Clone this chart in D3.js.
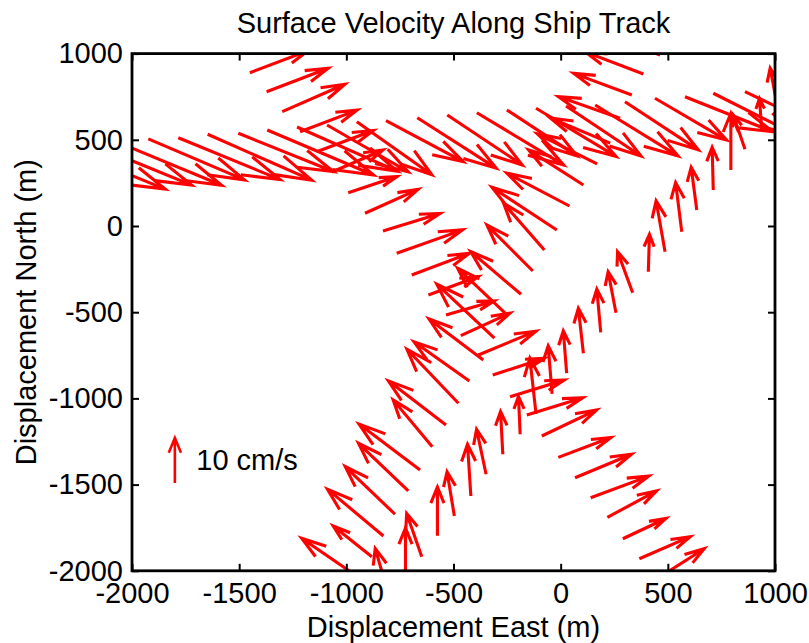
<!DOCTYPE html>
<html>
<head>
<meta charset="utf-8">
<script src="https://cdn.jsdelivr.net/npm/d3@7"></script>
<style>
  body { margin: 0; background: #fff; }
  text { font-family: Arial, "Liberation Sans", Helvetica, sans-serif; }
</style>
</head>
<body>
<div id="chart"></div>
<script>
// ship track positions (m) and surface velocity (cm/s)
// track A - northward flow
var eastA  = [-800, -724, -648, -575, -496, -419, -348, -270, -189, -115, -40, 28, 106, 187, 258, 336, 409, 487, 565, 635, 712, 794, 860, 938, 1014];
var northA = [-2152, -2034, -1918, -1796, -1682, -1566, -1440, -1324, -1208, -1090, -974, -854, -738, -617, -503, -387, -265, -149, -33, 93, 209, 325, 445, 557, 673];
var uA = [-2.5, 0, -2.7, 0, -1.3, -0.6, -1.7, -0.4, -0.3, -1.1, -0.7, -0.6, -0.9, -0.7, -1.4, -2.7, 0.2, -1.6, -1.1, -1.0, -0.2, 0, -2.1, -0.4, -1.4];
var vA = [10.8, 10.8, 9.6, 10.8, 9.8, 11.5, 10.0, 9.5, 8.4, 12.4, 10.7, 9.4, 10.0, 9.6, 9.1, 9.1, 8.3, 11.3, 10.9, 9.5, 9.5, 12.6, 7.6, 7.0, 9.3];

// track B - north-westward flow
var eastB  = [-937, -881, -827, -773, -711, -656, -599, -535, -477, -426, -361, -309, -259, -185, -130, -76, -18, 41, 106, 170, 231, 277, 332, 386, 464];
var northB = [-2043, -1918, -1798, -1672, -1537, -1415, -1280, -1154, -1028, -899, -777, -651, -506, -396, -261, -139, -23, 116, 238, 360, 481, 625, 760, 882, 992];
var uB = [-10.4, -6.9, -10.0, -8.9, -8.9, -10.9, -7.0, -10.3, -9.2, -9.9, -9.7, -10.3, -8.5, -9.0, -8.2, -7.3, -11.6, -11.2, -9.8, -10.7, -10.7, -11.0, -10.4, -10.4, -9.8];
var vB = [8.9, 6.8, 10.4, 10.6, 10.6, 10.2, 10.4, 9.8, 12.0, 8.7, 9.1, 12.0, 10.0, 9.5, 10.2, 10.4, 9.5, 7.3, 7.8, 6.7, 5.6, 4.8, 4.8, 4.9, 4.4];

// track C - east-southeastward flow along the northern leg
var eastC  = [-2294, -2168, -2028, -1924, -1784, -1647, -1504, -1369, -1230, -1090, -951, -815, -669, -529, -391, -251, -115, 25, 161, 300, 440, 580, 712, 860];
var northC = [441, 464, 466, 505, 512, 532, 538, 557, 574, 586, 605, 611, 628, 644, 657, 673, 683, 696, 702, 721, 741, 750, 770, 779];
var uC = [17.2, 17.1, 17.1, 17.2, 18.2, 18.6, 17.0, 19.0, 17.9, 14.5, 13.4, 13.8, 14.1, 13.4, 15.5, 12.5, 14.3, 13.4, 14.8, 13.1, 12.8, 15.7, 14.3, 14.3];
var vC = [-8.7, -8.7, -8.8, -9.1, -9.3, -10.2, -8.5, -10.0, -9.8, -10.4, -11.8, -9.1, -11.2, -11.1, -11.6, -10.2, -10.7, -11.1, -11.3, -10.7, -9.3, -7.8, -8.9, -8.4];

// track D - east-northeastward flow
var eastD  = [-1450, -1372, -1299, -1216, -1138, -1067, -991, -913, -829, -765, -695, -617, -535, -466, -384, -317, -236, -158, -88, -11, 67, 140, 218, 290, 367, 448];
var northD = [889, 779, 663, 547, 431, 313, 193, 74, -29, -158, -284, -400, -516, -636, -748, -864, -990, -1096, -1218, -1342, -1460, -1576, -1690, -1814, -1930, -2047];
var uD = [10.4, 11.0, 11.2, 10.2, 10.1, 9.1, 8.7, 9.5, 10.2, 11.8, 10.3, 8.9, 8.6, 8.8, 10.3, 9.2, 9.7, 10.0, 9.8, 9.4, 10.1, 10.4, 8.8, 7.7, 9.1, 8.5];
var vD = [4.9, 5.2, 6.1, 4.8, 4.7, 4.9, 3.6, 5.3, 3.9, 5.2, 4.8, 4.1, 3.1, 5.0, 5.3, 3.7, 3.7, 3.8, 5.8, 4.4, 5.2, 4.8, 5.9, 4.5, 4.9, 6.7];

var axisTicks = [-2000, -1500, -1000, -500, 0, 500, 1000];

var svgWidth = 809;
var svgHeight = 643;
var margin = { top: 53.6, right: 34, bottom: 72.2, left: 132 };
var width = svgWidth - margin.left - margin.right;
var height = svgHeight - margin.top - margin.bottom;

var arrowScale = 26.1; // metres of arrow per cm/s
var alpha = 0.33, beta = 0.33; // arrow head size like matlab quiver

var svg = d3.select("#chart")
  .append("svg")
  .attr("width", svgWidth)
  .attr("height", svgHeight);

var x = d3.scaleLinear().domain([-2000, 1000]).range([0, width]);
var y = d3.scaleLinear().domain([-2000, 1000]).range([height, 0]);

var chartGroup = svg.append("g")
  .attr("transform", `translate(${margin.left}, ${margin.top})`);

chartGroup.append("clipPath")
  .attr("id", "plotClip")
  .append("rect")
  .attr("width", width)
  .attr("height", height);

// build the arrow list from the tracks
function makeArrows(e, n, u, v) {
  return e.map(function (d, i) {
    return { e: d, n: n[i], u: u[i], v: v[i] };
  });
}
var arrows = [].concat(
  makeArrows(eastA, northA, uA, vA),
  makeArrows(eastB, northB, uB, vB),
  makeArrows(eastC, northC, uC, vC),
  makeArrows(eastD, northD, uD, vD)
);

function arrowPath(d) {
  var U = d.u * arrowScale, V = d.v * arrowScale;
  var tx = d.e + U, ty = d.n + V;
  var b1x = tx - alpha * (U + beta * V), b1y = ty - alpha * (V - beta * U);
  var b2x = tx - alpha * (U - beta * V), b2y = ty - alpha * (V + beta * U);
  return "M" + x(d.e) + "," + y(d.n) + "L" + x(tx) + "," + y(ty) +
    "M" + x(b1x) + "," + y(b1y) + "L" + x(tx) + "," + y(ty) + "L" + x(b2x) + "," + y(b2y);
}

chartGroup.append("g")
  .attr("clip-path", "url(#plotClip)")
  .selectAll("path")
  .data(arrows)
  .enter()
  .append("path")
  .attr("d", arrowPath)
  .attr("fill", "none")
  .attr("stroke", "#ff0000")
  .attr("stroke-width", 3.1);

// scale arrow
var legendArrow = { e: -1800, n: -1490, u: 0, v: 10 };
chartGroup.append("path")
  .attr("d", arrowPath(legendArrow))
  .attr("fill", "none")
  .attr("stroke", "#ff0000")
  .attr("stroke-width", 2.6);

chartGroup.append("text")
  .attr("x", x(-1700))
  .attr("y", y(-1415))
  .attr("font-size", 29)
  .text("10 cm/s");

// plain hyphen minus like the original tick labels
var tickFmt = function (d) { return String(d); };

// axes, ticks pointing inward on all four sides
function styleAxis(g) {
  g.select(".domain").remove();
  g.selectAll(".tick line").attr("stroke", "#000").attr("stroke-width", 2);
  g.selectAll(".tick text").attr("font-size", 29).attr("fill", "#000");
}

chartGroup.append("g")
  .attr("transform", `translate(0, ${height})`)
  .call(d3.axisBottom(x).tickValues(axisTicks).tickSizeInner(-7).tickSizeOuter(0).tickPadding(12).tickFormat(tickFmt))
  .call(styleAxis);

chartGroup.append("g")
  .call(d3.axisTop(x).tickValues(axisTicks).tickSizeInner(-7).tickSizeOuter(0).tickFormat(""))
  .call(styleAxis);

chartGroup.append("g")
  .call(d3.axisLeft(y).tickValues(axisTicks).tickSizeInner(-7).tickSizeOuter(0).tickPadding(9).tickFormat(tickFmt))
  .call(styleAxis);

chartGroup.append("g")
  .attr("transform", `translate(${width}, 0)`)
  .call(d3.axisRight(y).tickValues(axisTicks).tickSizeInner(-7).tickSizeOuter(0).tickFormat(""))
  .call(styleAxis);

chartGroup.append("rect")
  .attr("width", width)
  .attr("height", height)
  .attr("fill", "none")
  .attr("stroke", "#000")
  .attr("stroke-width", 2.8);

// labels
svg.append("text")
  .attr("x", margin.left + width / 2)
  .attr("y", 33)
  .attr("text-anchor", "middle")
  .attr("font-size", 29)
  .text("Surface Velocity Along Ship Track");

svg.append("text")
  .attr("x", margin.left + width / 2)
  .attr("y", 637)
  .attr("text-anchor", "middle")
  .attr("font-size", 29)
  .text("Displacement East (m)");

svg.append("text")
  .attr("transform", `translate(36, ${margin.top + height / 2}) rotate(-90)`)
  .attr("text-anchor", "middle")
  .attr("font-size", 29)
  .text("Displacement North (m)");
</script>
</body>
</html>
